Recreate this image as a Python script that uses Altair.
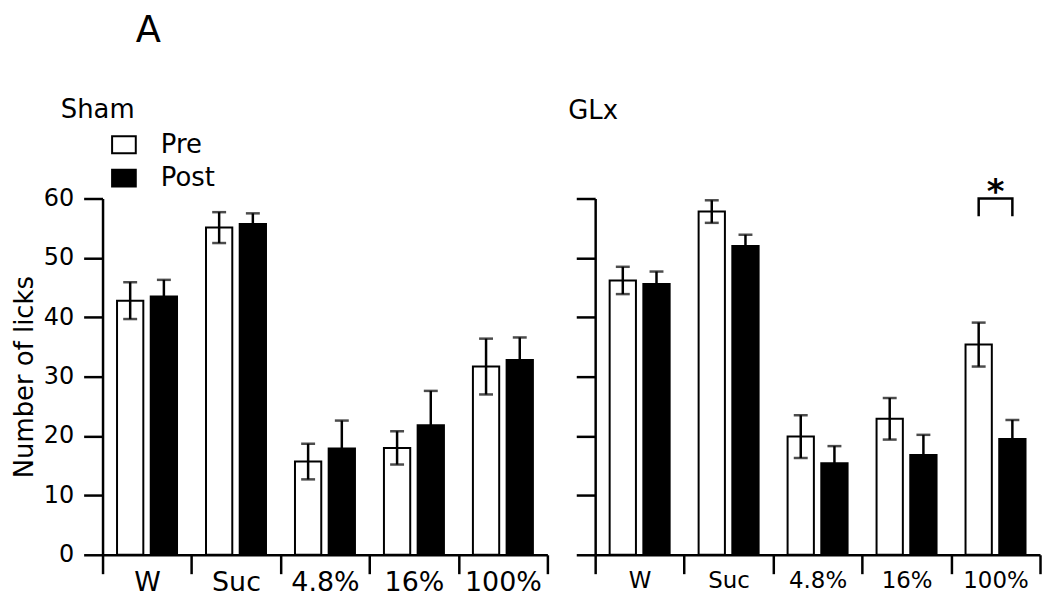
import altair as alt
import pandas as pd

# ---------------- data ----------------
categories = ["W", "Suc", "4.8%", "16%", "100%"]
phases = ["Pre", "Post"]

sham_pre = [42.8, 55.1, 15.7, 18.0, 31.7]
sham_pre_sem = [3.1, 2.6, 3.0, 2.8, 4.7]
sham_post = [43.5, 55.7, 17.9, 21.8, 32.8]
sham_post_sem = [2.8, 1.8, 4.7, 5.8, 3.8]

glx_pre = [46.2, 57.8, 19.9, 22.9, 35.4]
glx_pre_sem = [2.3, 1.9, 3.6, 3.5, 3.7]
glx_post = [45.6, 52.0, 15.4, 16.8, 19.5]
glx_post_sem = [2.1, 1.9, 2.9, 3.4, 3.2]

y_ticks = [0, 10, 20, 30, 40, 50, 60]

# significance bracket (GLx, 100%)
sig_category = "100%"
sig_top = 60
sig_leg = 57
sig_star_y = 59.2

FONT = "DejaVu Sans"
W, H = 447, 358


def panel_data(pre, pre_sem, post, post_sem):
    rows = []
    for phase, means, sems in (("Pre", pre, pre_sem), ("Post", post, post_sem)):
        for c, m, s in zip(categories, means, sems):
            rows.append({"cat": c, "phase": phase, "mean": m,
                         "lo": m - s, "hi": m + s})
    return pd.DataFrame(rows)


def make_panel(df, title, title_dx, title_offset, label_size, is_left,
               bracket=False):
    x_axis = alt.Axis(title=None, labelAngle=0, labelFontSize=label_size,
                      labelFont=FONT, labelColor="black", tickBand="extent",
                      tickSize=19, tickWidth=2.5, tickColor="black",
                      domainColor="black", domainWidth=2.5, labelPadding=-4,
                      grid=False)
    if is_left:
        y_axis = alt.Axis(title="Number of licks", values=y_ticks,
                          labelFontSize=24, labelFont=FONT, labelColor="black",
                          titleFontSize=26, titleFont=FONT, titleColor="black",
                          titleFontWeight="normal", titlePadding=6,
                          labelPadding=10, tickSize=19, tickWidth=2.5,
                          tickColor="black", domainColor="black",
                          domainWidth=2.5, grid=False)
    else:
        y_axis = alt.Axis(title=None, values=y_ticks, labels=False,
                          tickSize=19, tickWidth=2.5, tickColor="black",
                          domainColor="black", domainWidth=2.5, grid=False)

    x = alt.X("cat:N", sort=categories,
              scale=alt.Scale(paddingInner=0, paddingOuter=0), axis=x_axis)
    xo = alt.XOffset("phase:N", sort=phases,
                     scale=alt.Scale(paddingInner=0.22, paddingOuter=0.43))
    ysc = alt.Scale(domain=[0, 60], nice=False)

    if is_left:
        legend = alt.Legend(title=None, orient="none", legendX=8.5,
                            legendY=-67,
                            symbolType="M-1.4,-1H1.4V1H-1.4Z",
                            symbolSize=289, symbolStrokeColor="black",
                            symbolStrokeWidth=2, labelFontSize=26,
                            labelFont=FONT, labelColor="black",
                            labelOffset=24, rowPadding=7.5, padding=0)
    else:
        legend = None

    base = alt.Chart(df)
    bars = base.mark_bar(stroke="black", strokeWidth=2).encode(
        x=x, xOffset=xo,
        y=alt.Y("mean:Q", scale=ysc, axis=y_axis),
        fill=alt.Fill("phase:N", sort=phases,
                      scale=alt.Scale(domain=phases, range=["white", "black"]),
                      legend=legend),
    )
    err = base.mark_rule(color="black", strokeWidth=2.5).encode(
        x=x, xOffset=xo,
        y=alt.Y("lo:Q", scale=ysc, axis=y_axis), y2="hi:Q")
    cap_hi = base.mark_tick(color="black", size=14, thickness=2.5).encode(
        x=x, xOffset=xo, y=alt.Y("hi:Q", scale=ysc, axis=y_axis))
    cap_lo = base.mark_tick(color="black", size=14, thickness=2.5).encode(
        x=x, xOffset=xo, y=alt.Y("lo:Q", scale=ysc, axis=y_axis))

    layers = [bars, err, cap_hi, cap_lo]
    if bracket:
        bdf = pd.DataFrame({
            "cat": [sig_category] * 4,
            "phase": ["Pre", "Pre", "Post", "Post"],
            "v": [sig_leg, sig_top, sig_top, sig_leg],
            "o": [0, 1, 2, 3],
        })
        line = alt.Chart(bdf).mark_line(color="black", strokeWidth=2.5,
                                        strokeJoin="miter").encode(
            x=x, xOffset=xo, y=alt.Y("v:Q", scale=ysc, axis=y_axis),
            order="o:Q")
        sdf = pd.DataFrame({"cat": [sig_category], "v": [sig_star_y]})
        star = alt.Chart(sdf).mark_text(text="*", fontSize=34, font=FONT,
                                        fontWeight="bold", color="black",
                                        baseline="alphabetic").encode(
            x=x, y=alt.Y("v:Q", scale=ysc, axis=y_axis))
        layers += [line, star]

    return alt.layer(*layers).properties(
        width=W, height=H,
        title=alt.TitleParams(title, anchor="start", frame="group",
                              dx=title_dx, offset=title_offset, fontSize=26,
                              font=FONT, fontWeight="normal", color="black",
                              baseline="alphabetic"),
    )


left = make_panel(panel_data(sham_pre, sham_pre_sem, sham_post, sham_post_sem),
                  "Sham", -42, -12, 27, True)
right = make_panel(panel_data(glx_pre, glx_pre_sem, glx_post, glx_post_sem),
                   "GLx", -27, 32, 23, False, bracket=True)

chart = (
    alt.hconcat(left, right, spacing=19)
    .resolve_scale(fill="independent")
    .resolve_legend(fill="independent")
    .properties(
        title=alt.TitleParams("A", anchor="start", fontSize=37, font=FONT,
                              fontWeight="normal", color="black", dx=125,
                              offset=47),
        padding={"left": 3, "top": 3, "right": 0, "bottom": 0},
    )
    .configure(font=FONT)
    .configure_view(strokeWidth=0)
)

chart.save("out.html", embed_options={"renderer": "svg", "actions": False})
